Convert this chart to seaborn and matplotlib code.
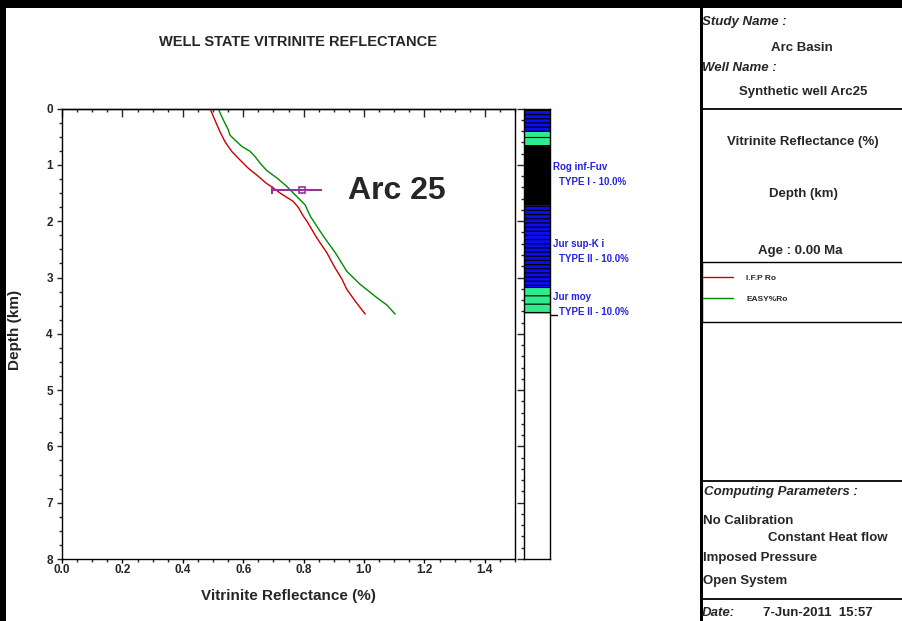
import matplotlib
matplotlib.use("Agg")
import matplotlib.pyplot as plt
from matplotlib.patches import Rectangle
from matplotlib.lines import Line2D
from matplotlib.ticker import MultipleLocator, FormatStrFormatter
import seaborn as sns

# modelled vitrinite reflectance, I.F.P kinetic
ifp_depth = [0.00, 0.20, 0.41, 0.59, 0.76, 0.91, 1.06, 1.18, 1.32, 1.41, 1.50,
             1.65, 1.76, 1.91, 2.00, 2.30, 2.56, 2.81, 3.03, 3.21, 3.42, 3.65]
ifp_ro = [0.490, 0.506, 0.523, 0.540, 0.562, 0.589, 0.617, 0.645, 0.675, 0.700, 0.722,
          0.766, 0.783, 0.799, 0.811, 0.844, 0.877, 0.902, 0.927, 0.943, 0.971, 1.004]

# EASY%Ro
easy_depth = [0.00, 0.20, 0.38, 0.47, 0.56, 0.67, 0.76, 0.85, 0.97, 1.10, 1.23, 1.38,
              1.56, 1.71, 1.91, 2.27, 2.56, 2.89, 3.12, 3.24, 3.36, 3.49, 3.65]
easy_ro = [0.517, 0.534, 0.551, 0.556, 0.573, 0.595, 0.623, 0.639, 0.656, 0.678, 0.711, 0.744,
           0.777, 0.805, 0.822, 0.866, 0.905, 0.943, 0.987, 1.015, 1.043, 1.076, 1.103]

# measured point
calib_ro = [0.794]
calib_depth = [1.45]
calib_lo = [0.100]
calib_hi = [0.068]

# lithology column
litho_top = [0.00, 0.42, 0.65, 1.72, 3.17]
litho_base = [0.42, 0.65, 1.72, 3.17, 3.65]
litho_kind = ["limestone", "shale", "source", "limestone", "shale"]

formations = ["Rog inf-Fuv", "Jur sup-K i", "Jur moy"]
kerogens = ["TYPE I - 10.0%", "TYPE II - 10.0%", "TYPE II - 10.0%"]
label_depth = [1.04, 2.40, 3.35]

litho_style = {
    "limestone": dict(facecolor="#0c0cee", hatch="----"),
    "shale": dict(facecolor="#30ea8c", hatch="--"),
    "source": dict(facecolor="black", hatch=None),
}

W, H = 902, 621


def fx(px):
    return px / W


def fy(py):
    return 1 - py / H


sns.set_style("ticks")
plt.rcParams["font.family"] = ["Liberation Sans", "DejaVu Sans"]
plt.rcParams["font.weight"] = "bold"
plt.rcParams["axes.labelweight"] = "bold"
plt.rcParams["hatch.linewidth"] = 0.8

fig = plt.figure(figsize=(9.02, 6.21), dpi=100, facecolor="black")
# white panels on the black frame
fig.add_artist(Rectangle((fx(6), 0), fx(700) - fx(6), fy(8), transform=fig.transFigure,
                         facecolor="white", edgecolor="none", zorder=-10))
fig.add_artist(Rectangle((fx(703), 0), 1 - fx(703), fy(8), transform=fig.transFigure,
                         facecolor="white", edgecolor="none", zorder=-10))

ax = fig.add_axes([fx(62), fy(559), fx(515) - fx(62), fy(108.6) - fy(559)])
sns.lineplot(x=ifp_ro, y=ifp_depth, sort=False, estimator=None, color="#cc0000",
             lw=1.0, ax=ax, legend=False)
sns.lineplot(x=easy_ro, y=easy_depth, sort=False, estimator=None, color="#008a00",
             lw=1.0, ax=ax, legend=False)
ax.errorbar(calib_ro, calib_depth, xerr=[calib_lo, calib_hi], fmt="s", ms=5,
            mfc="none", mec="#993399", mew=1.2, ecolor="#993399", elinewidth=1.5, capsize=0)
ax.plot([calib_ro[0] - calib_lo[0]], calib_depth, marker="|", ms=6, mew=1.5, color="#993399")

ax.set_xlim(0, 1.5)
ax.set_ylim(8, 0)
ax.xaxis.set_major_locator(MultipleLocator(0.2))
ax.xaxis.set_minor_locator(MultipleLocator(0.05))
ax.xaxis.set_major_formatter(FormatStrFormatter("%.1f"))
ax.yaxis.set_major_locator(MultipleLocator(1))
ax.yaxis.set_minor_locator(MultipleLocator(0.25))
ax.set_xticks([0.0, 0.2, 0.4, 0.6, 0.8, 1.0, 1.2, 1.4])
ax.tick_params(axis="x", which="major", direction="out", length=3, width=1, pad=0.5,
               labelsize=8.5, color="black")
ax.tick_params(axis="x", which="minor", direction="out", length=2, width=1)
ax.tick_params(axis="y", which="major", direction="out", length=3.6, width=1, pad=3,
               labelsize=8.5)
ax.tick_params(axis="y", which="minor", direction="out", length=2, width=1)
for lab in ax.get_xticklabels() + ax.get_yticklabels():
    lab.set_fontweight("bold")
for sp in ax.spines.values():
    sp.set_visible(True)
    sp.set_linewidth(1.0)
    sp.set_color("black")

top = ax.secondary_xaxis("top")
top.xaxis.set_major_locator(MultipleLocator(0.2))
top.xaxis.set_minor_locator(MultipleLocator(0.05))
top.tick_params(which="major", direction="in", length=6, width=1, labeltop=False)
top.tick_params(which="minor", direction="in", length=2.5, width=1)
top.spines["top"].set_linewidth(1.0)

ax.set_xlabel("Vitrinite Reflectance (%)", fontsize=11, fontweight="bold")
ax.set_ylabel("Depth (km)", fontsize=11, fontweight="bold")
ax.xaxis.set_label_coords(0.5, -0.066)
ax.yaxis.set_label_coords(-0.089, 0.508)

ax.text(0.948, 1.46, "Arc 25", fontsize=23, fontweight="bold", va="center", ha="left")

fig.text(fx(298), fy(42), "WELL STATE VITRINITE REFLECTANCE", ha="center", va="center",
         fontsize=10.5, fontweight="bold")

# lithology column
cax = fig.add_axes([fx(524), fy(559), fx(550) - fx(524), fy(108.6) - fy(559)])
cax.set_xlim(0, 1)
cax.set_ylim(8, 0)
for t, b, k in zip(litho_top, litho_base, litho_kind):
    st = litho_style[k]
    cax.fill_betweenx([t, b], 0, 1, facecolor=st["facecolor"], hatch=st["hatch"],
                      edgecolor="black", linewidth=0)
cax.set_xticks([])
cax.yaxis.set_major_locator(MultipleLocator(1))
cax.yaxis.set_minor_locator(MultipleLocator(0.2))
cax.tick_params(axis="y", which="major", direction="out", length=5, width=1, labelleft=False)
cax.tick_params(axis="y", which="minor", direction="out", length=2.5, width=1)
for sp in cax.spines.values():
    sp.set_visible(True)
    sp.set_linewidth(1.0)
    sp.set_color("black")

for name, ker, d in zip(formations, kerogens, label_depth):
    cax.text(1.10, d, name, color="#2424e0", fontsize=7, fontweight="bold",
             va="center", ha="left", clip_on=False)
    cax.text(1.35, d + 0.265, ker, color="#2424e0", fontsize=7, fontweight="bold",
             va="center", ha="left", clip_on=False)
cax.plot([1.0, 1.27], [litho_base[-1] + 0.02] * 2, color="black", lw=1, clip_on=False)

# right information panel


def panel_text(px, py, s, ha="left", italic=False, size=9.5):
    fig.text(fx(px), fy(py), s, ha=ha, va="center", fontsize=size, fontweight="bold",
             fontstyle="italic" if italic else "normal")


def hline(py, lw=1.3):
    fig.add_artist(Line2D([fx(703), 1], [fy(py), fy(py)], color="black", lw=lw,
                          transform=fig.transFigure))


panel_text(702, 22, "Study Name :", italic=True)
panel_text(802, 48, "Arc Basin", ha="center")
panel_text(702, 68, "Well Name :", italic=True)
panel_text(803, 92, "Synthetic well Arc25", ha="center")
hline(108.5)
panel_text(803, 142, "Vitrinite Reflectance (%)", ha="center")
panel_text(803, 194, "Depth (km)", ha="center")
panel_text(800, 251, "Age : 0.00 Ma", ha="center")

fig.add_artist(Rectangle((fx(702), fy(322)), 1.01 - fx(702), fy(262) - fy(322),
                         transform=fig.transFigure, facecolor="none", edgecolor="black",
                         lw=1.0))
leg = fig.legend(ax.get_lines()[:2], ["I.F.P Ro", "EASY%Ro"], loc="upper left",
                 bbox_to_anchor=(fx(703), fy(274)), bbox_transform=fig.transFigure,
                 frameon=False, borderpad=0, borderaxespad=0, handlelength=3.6,
                 handletextpad=1.6, labelspacing=1.6, prop=dict(size=6, weight="bold"))

hline(480.5)
panel_text(704, 492, "Computing Parameters :", italic=True)
panel_text(703, 521, "No Calibration")
panel_text(768, 538, "Constant Heat flow")
panel_text(703, 558, "Imposed Pressure")
panel_text(703, 581, "Open System")
hline(599)
panel_text(702, 613, "Date:", italic=True)
panel_text(763, 613, "7-Jun-2011  15:57")

fig.savefig("out.png", dpi=100, facecolor=fig.get_facecolor())
